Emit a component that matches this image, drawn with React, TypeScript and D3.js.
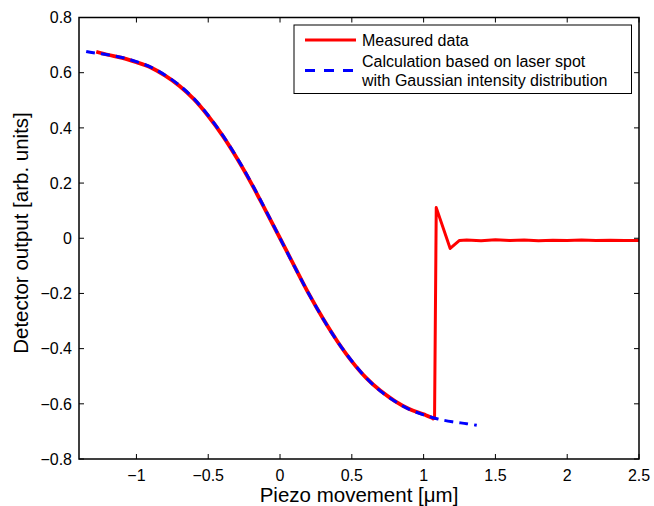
import React from "react";
import * as d3 from "d3";

// Measured data (Piezo movement [µm], detector output)
const measuredX = [-1.28, -1.2, -1.1, -1.0, -0.9, -0.8, -0.7, -0.6, -0.5, -0.4, -0.3, -0.2, -0.1, 0, 0.1, 0.2, 0.3, 0.4, 0.5, 0.6, 0.7, 0.8, 0.9, 1.0, 1.07, 1.076, 1.088, 1.185, 1.25, 1.3, 1.4, 1.5, 1.6, 1.7, 1.8, 1.9, 2.0, 2.1, 2.2, 2.3, 2.4, 2.5];
const measuredY = [0.676, 0.665, 0.654, 0.638, 0.619, 0.589, 0.552, 0.504, 0.443, 0.372, 0.290, 0.199, 0.100, 0, -0.101, -0.201, -0.292, -0.374, -0.446, -0.506, -0.553, -0.590, -0.619, -0.638, -0.654, -0.658, 0.111, -0.037, -0.008, -0.006, -0.009, -0.005, -0.008, -0.006, -0.009, -0.007, -0.008, -0.006, -0.008, -0.007, -0.008, -0.008];

// Calculation based on Gaussian intensity distribution
const calcX = [-1.35, -1.3, -1.2, -1.1, -1.0, -0.9, -0.8, -0.7, -0.6, -0.5, -0.4, -0.3, -0.2, -0.1, 0, 0.1, 0.2, 0.3, 0.4, 0.5, 0.6, 0.7, 0.8, 0.9, 1.0, 1.1, 1.2, 1.3, 1.37];
const calcY = [0.677, 0.672, 0.665, 0.655, 0.640, 0.620, 0.591, 0.554, 0.506, 0.445, 0.374, 0.292, 0.201, 0.102, 0, -0.102, -0.201, -0.292, -0.374, -0.445, -0.506, -0.554, -0.591, -0.620, -0.640, -0.655, -0.665, -0.672, -0.678];

const xTicks = [-1, -0.5, 0, 0.5, 1, 1.5, 2, 2.5];
const yTicks = [-0.8, -0.6, -0.4, -0.2, 0, 0.2, 0.4, 0.6, 0.8];

const xLabel = "Piezo movement [\u03bcm]";
const yLabel = "Detector output [arb. units]";
const legendLabels = ["Measured data", "Calculation based on laser spot", "with Gaussian intensity distribution"];

const W = 654, H = 506;
const L = 79, R = 639, T = 17.5, B = 459;
const FONT = "'Liberation Sans', Arial, Helvetica, sans-serif";

function fmt(v: number) {
  const s = String(Math.round(v * 10) / 10);
  return s.startsWith("-") ? "\u2212" + s.slice(1) : s;
}

export default function App() {
  const x = d3.scaleLinear().domain([-1.4, 2.5]).range([L, R]);
  const y = d3.scaleLinear().domain([-0.8, 0.8]).range([B, T]);

  const line = d3.line<[number, number]>().x(d => x(d[0])).y(d => y(d[1]));
  const smooth = d3.line<[number, number]>().x(d => x(d[0])).y(d => y(d[1])).curve(d3.curveCatmullRom.alpha(0.5));

  const measPts: [number, number][] = measuredX.map((v, i) => [v, measuredY[i]]);
  const curvePart = measPts.slice(0, 26);
  const restPart = measPts.slice(25);
  const calcPts: [number, number][] = calcX.map((v, i) => [v, calcY[i]]);

  const tickLen = 5;

  return (
    <svg width={W} height={H} style={{ position: "absolute", left: 0, top: 0, background: "#fff" }} fontFamily={FONT}>
      <rect x={0} y={0} width={W} height={H} fill="#fff" />
      {/* data */}
      <path d={smooth(curvePart) || ""} fill="none" stroke="#ff0000" strokeWidth={3.8} strokeLinejoin="round" />
      <path d={line(restPart) || ""} fill="none" stroke="#ff0000" strokeWidth={3} strokeLinejoin="round" />
      <path d={smooth(calcPts) || ""} fill="none" stroke="#0000ff" strokeWidth={3} strokeDasharray="9,6" />

      {/* axes box */}
      <rect x={L} y={T} width={R - L} height={B - T} fill="none" stroke="#000" strokeWidth={1.5} />
      {xTicks.map(t => (
        <g key={"x" + t}>
          <line x1={x(t)} x2={x(t)} y1={B} y2={B - tickLen} stroke="#000" strokeWidth={1} />
          <line x1={x(t)} x2={x(t)} y1={T} y2={T + tickLen} stroke="#000" strokeWidth={1} />
          <text x={x(t)} y={481} textAnchor="middle" fontSize={16}>{fmt(t)}</text>
        </g>
      ))}
      {yTicks.map(t => (
        <g key={"y" + t}>
          <line x1={L} x2={L + tickLen} y1={y(t)} y2={y(t)} stroke="#000" strokeWidth={1} />
          <line x1={R} x2={R - tickLen} y1={y(t)} y2={y(t)} stroke="#000" strokeWidth={1} />
          <text x={72} y={y(t) + 5.8} textAnchor="end" fontSize={16}>{fmt(t)}</text>
        </g>
      ))}

      <text x={(L + R) / 2} y={502} textAnchor="middle" fontSize={20.5}>{xLabel}</text>
      <text transform={`translate(28,233) rotate(-90)`} textAnchor="middle" fontSize={20.5}>{yLabel}</text>

      {/* legend */}
      <rect x={294} y={25} width={337.5} height={68.5} fill="#fff" stroke="#000" strokeWidth={1} />
      <line x1={305} x2={356} y1={40} y2={40} stroke="#ff0000" strokeWidth={3} />
      <line x1={305} x2={356} y1={70.5} y2={70.5} stroke="#0000ff" strokeWidth={3} strokeDasharray="10,9" />
      <text x={362} y={46} fontSize={16}>{legendLabels[0]}</text>
      <text x={362} y={67} fontSize={16}>{legendLabels[1]}</text>
      <text x={362} y={86} fontSize={16}>{legendLabels[2]}</text>
    </svg>
  );
}
